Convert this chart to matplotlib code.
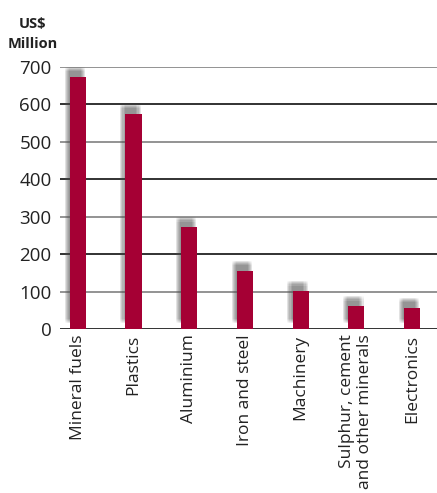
import matplotlib
matplotlib.use("Agg")
import matplotlib.pyplot as plt
import matplotlib.patheffects as pe
import numpy as np

# dados
categorias = ["Mineral fuels", "Plastics", "Aluminium", "Iron and steel",
              "Machinery", "Sulphur, cement\nand other minerals", "Electronics"]
valores = [673, 574, 272, 155, 101, 61, 56]
yticks = [0, 100, 200, 300, 400, 500, 600, 700]

COR_BARRA = "#a50034"
plt.rcParams["font.family"] = ["Open Sans", "DejaVu Sans"]

fig = plt.figure(figsize=(4.37, 4.93), dpi=100)
ax = fig.add_axes([0.137, 0.3327, 0.863, 0.532])

# grade alternando cinza e preto
for v in yticks:
    cor = "#222222" if (v // 100) % 2 == 0 else "#8a8a8a"
    ax.axhline(v, color=cor, lw=1.3, zorder=1)

# sombra desfocada (varias camadas)
sombras = []
for dx in np.linspace(-1.6, 1.6, 5):
    for dy in np.linspace(-1.6, 1.6, 5):
        sombras.append(pe.SimplePatchShadow(offset=(-2.2 + dx, 5.6 + dy),
                                            shadow_rgbFace="#5a5a5a", alpha=0.035))
sombras.append(pe.Normal())

x = np.arange(len(categorias))
barras = ax.bar(x, valores, width=0.29, color=COR_BARRA, zorder=3)
for b in barras:
    b.set_path_effects(sombras)

ax.set_xlim(-0.323, 6.45)
ax.set_ylim(0, 700)
ax.set_yticks(yticks)
ax.set_yticklabels([str(v) for v in yticks], fontsize=13.5, color="#222222")
ax.set_xticks(x)
ax.set_xticklabels(categorias, rotation=90, fontsize=12.5, color="#222222",
                   ha="center", va="top", multialignment="right", linespacing=1.15)
ax.tick_params(axis="both", length=0, pad=4)
ax.tick_params(axis="y", pad=6)
for s in ax.spines.values():
    s.set_visible(False)

fig.text(0.075, 0.965, "US$\nMillion", ha="center", va="top", fontsize=10.5,
         fontweight="bold", color="#222222", linespacing=1.5)

fig.savefig("out.png", dpi=100)
